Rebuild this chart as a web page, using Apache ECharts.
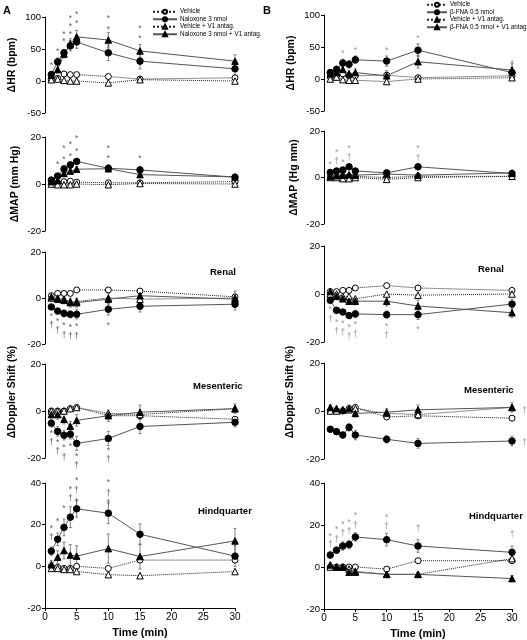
<!DOCTYPE html>
<html><head><meta charset="utf-8">
<script src="https://cdn.jsdelivr.net/npm/echarts@6/dist/echarts.min.js"></script>
<style>html,body{margin:0;padding:0;background:#fff}#c{width:527px;height:640px}</style>
</head><body><div id="c"></div>
<script>
// ---------- DATA ----------
const times = [1, 2, 3, 4, 5, 10, 15, 30];
const xTicks = [0, 5, 10, 15, 20, 25, 30];

const namesA = ['Vehicle', 'Naloxone 3 nmol', 'Vehicle + V1 antag.', 'Naloxone 3 nmol + V1 antag.'];
const namesB = ['Vehicle', 'β-FNA 0.5 nmol', 'Vehicle + V1 antag.', 'β-FNA 0.5 nmol + V1 antag.'];

// Column A: HR
const hrA_veh    = [2, 4, 11, 10, 10, 7, 3, 5];
const hrA_nal    = [10, 30, 44, 55, 61, 44, 31, 19];
const hrA_vehV1  = [2, 3, 1, 0, 0, -3, 2, 0];
const hrA_nalV1  = [9, 18, 42, 58, 69, 64, 47, 31];
const hrA_nalErr   = [4, 6, 5, 8, 10, 12, 12, 10];
const hrA_nalV1Err = [5, 6, 6, 8, 10, 12, 10, 10];
const hrA_ann = [[1,27,'*'],[2,49,'*'],[3,64,'*'],[3,76,'*'],[4,75,'*'],[4,88,'*'],[4,101,'*'],[5,93,'*'],[5,107,'*'],[10,83,'*'],[10,101,'*'],[15,69,'*'],[15,85,'*']];

// Column A: MAP
const mapA_veh   = [0.5, 0.5, 1, 1.2, 0.8, 0.5, 0.5, 1];
const mapA_nal   = [1.7, 3.4, 6.4, 8.1, 9.6, 6.7, 6, 2.9];
const mapA_vehV1 = [0, -0.3, -0.3, -0.3, 0, -0.3, 0.2, 0];
const mapA_nalV1 = [1, 1.5, 4.5, 5.5, 6.3, 6.5, 4, 3];
const mapA_nalErr   = [0.8, 1, 1.5, 1.5, 1.2, 1.5, 1.5, 1.2];
const mapA_nalV1Err = [0.8, 1, 1, 1, 1.2, 1.2, 1.2, 1];
const mapA_ann = [[2,9,'*'],[3,16,'*'],[3,11,'*'],[4,17.5,'*'],[4,12.5,'*'],[5,20,'*'],[5,14.5,'*'],[10,16,'*'],[10,11.5,'*'],[15,11.5,'*']];

// Column A: Renal
const renA_veh   = [1, 2, 2, 2, 3.5, 3.5, 3, 0.5];
const renA_nal   = [-3.9, -5.7, -6.7, -7.1, -7.1, -4.9, -3.6, -2.7];
const renA_vehV1 = [0, 0, -0.5, -1.5, -1.5, 0, -0.5, 0];
const renA_nalV1 = [0.5, -0.5, -1, -2, -2, -0.5, 1, -0.5];
const renA_nalErr   = [1, 1, 1.5, 1.5, 2, 2.5, 2.5, 2.5];
const renA_nalV1Err = [1.5, 1.5, 1.5, 2, 2, 2.5, 3, 3.5];
const renA_ann = [[1,-7.4,'*'],[1,-11.3,'†'],[2,-9.3,'*'],[2,-13.4,'†'],[3,-11,'*'],[3,-15.7,'†'],[4,-12,'*'],[4,-16,'†'],[5,-11.7,'*'],[5,-16,'†'],[10,-11,'*']];

// Column A: Mesenteric
const mesA_veh   = [0, 0, 0, 1, 1.5, -2, -2, -3.5];
const mesA_nal   = [-5.2, -8.7, -10.3, -9.9, -13.8, -11.7, -6.6, -4.8];
const mesA_vehV1 = [0, 0, 0, 1, 1.5, -1, -1.5, 1];
const mesA_nalV1 = [-1.5, -1.5, -3.5, -6.5, -4, -2, -0.5, 1];
const mesA_nalErr   = [1.5, 2, 2, 2, 3, 3, 3, 2];
const mesA_nalV1Err = [1.5, 2, 2, 2, 2.5, 2.5, 3, 2];
const mesA_ann = [[1,-8.7,'*'],[1,-12.6,'†'],[2,-12.7,'*'],[2,-16.6,'†'],[3,-14.9,'*'],[3,-18.9,'†'],[4,-14.5,'*'],[5,-18.6,'*'],[5,-22.5,'†'],[10,-16.1,'*'],[10,-20,'†']];

// Column A: Hindquarter
const hqA_veh   = [0, -0.5, -1, -1, 0, -1, 3, 3];
const hqA_nal   = [7.3, 13, 18.7, 23.6, 27.6, 25.5, 15.4, 4.9];
const hqA_vehV1 = [-1, -1, -1.5, -1.5, -2.5, -4, -4.5, -2.5];
const hqA_nalV1 = [0.8, 4.4, 7.6, 5.4, 4.9, 8.5, 4.7, 12.2];
const hqA_nalErr   = [2, 3, 4, 5, 4, 5, 5, 5];
const hqA_nalV1Err = [2, 3, 4, 5, 5, 7, 6, 6];
const hqA_ann = [[1,19,'*'],[1,14.8,'†'],[2,22.5,'*'],[3,28.5,'*'],[4,38,'*'],[4,33.5,'†'],[5,42,'*'],[5,37.5,'†'],[5,31.5,'†'],[10,41,'*'],[10,36,'†'],[10,31,'†']];

// Column B: HR
const hrB_veh   = [3, 5, 8, 5, 5, 6, 2, 5];
const hrB_fna   = [10, 15, 25, 23, 30, 28, 45, 10];
const hrB_vehV1 = [0, 3, -1, -2, -2, -4, 0, 2];
const hrB_fnaV1 = [8, 10, 15, 8, 10, 5, 27, 14];
const hrB_fnaErr   = [4, 5, 6, 6, 6, 8, 10, 8];
const hrB_fnaV1Err = [3, 5, 5, 5, 6, 8, 10, 10];
const hrB_ann = [[3,42,'*'],[5,47,'*'],[10,47,'*'],[15,66,'*'],[30,26,'†']];

// Column B: MAP
const mapB_veh   = [0.3, 0.3, 0.5, 0.5, 0.5, 0, 0.5, 0.5];
const mapB_fna   = [2.2, 2.8, 3.2, 4.6, 2.8, 2, 4.6, 1.7];
const mapB_vehV1 = [0, 0, -0.5, -0.5, 0, -0.8, 0, 0.5];
const mapB_fnaV1 = [0.5, 0.8, 1, 1.2, 1, 1.5, 1, 2];
const mapB_fnaErr   = [0.8, 0.8, 0.8, 1, 1, 0.8, 1.2, 1];
const mapB_fnaV1Err = [0.6, 0.6, 0.6, 0.8, 0.8, 0.8, 0.8, 1];
const mapB_ann = [[1,6.5,'*'],[2,11.5,'*'],[2,7.5,'†'],[3,7.2,'*'],[4,13.3,'*'],[4,9.4,'†'],[15,13.3,'*'],[15,9,'†']];

// Column B: Renal
const renB_veh   = [1, 1, 1.5, 1.5, 2.5, 3.5, 2.5, 1.5];
const renB_fna   = [-2.6, -6.8, -7.5, -9, -8.3, -8.6, -8.6, -4.2];
const renB_vehV1 = [0, 0, -1, -1, -2, 0, -0.5, 0];
const renB_fnaV1 = [1, -1, -2, -3, -3, -3, -5, -7.8];
const renB_fnaErr   = [1, 1, 1, 1.2, 1.5, 1.5, 2, 2];
const renB_fnaV1Err = [1, 1, 1, 1.2, 1.5, 2, 2.5, 2];
const renB_ann = [[1,-5.8,'*'],[1,-9.7,'†'],[2,-11.1,'*'],[2,-14.9,'†'],[3,-11.7,'*'],[3,-15.3,'†'],[4,-13,'*'],[4,-17,'†'],[5,-12,'*'],[5,-16.3,'†'],[10,-12.8,'*'],[10,-16.7,'†'],[15,-14.2,'*']];

// Column B: Mesenteric
const mesB_veh   = [0, 0, 0, 1, 1.5, -2.5, -2, -3];
const mesB_fna   = [-7.6, -8.6, -10, -6.8, -10, -11.8, -13.5, -12.5];
const mesB_vehV1 = [0, 0, 0.5, 0.5, 1, -1, -1.5, 1.5];
const mesB_fnaV1 = [1.5, 1, 0.5, 1, -1, -0.5, 0.5, 1.5];
const mesB_fnaErr   = [1.2, 1.2, 1.2, 1.5, 2, 1.5, 2, 2];
const mesB_fnaV1Err = [1, 1, 1, 1.5, 1.5, 1.5, 2, 2];
const mesB_ann = [[32,1,'†'],[32,-12.5,'†']];

// Column B: Hindquarter
const hqB_veh   = [0, 0, 0, 0, 0, -1, 3, 3];
const hqB_fna   = [5.7, 8, 10, 10.7, 14.3, 13, 10, 7];
const hqB_vehV1 = [0, 0, 0, -1, -2, -3.5, -3.5, 4];
const hqB_fnaV1 = [1, 0, 0, -2.5, -2.5, -3.5, -3.5, -5.5];
const hqB_fnaErr   = [1.5, 1.5, 2, 2, 2, 3, 3, 3];
const hqB_fnaV1Err = [1, 1, 1, 1, 1, 1, 1, 1.5];
const hqB_ann = [[1,15.6,'*'],[1,11.4,'†'],[2,18.7,'*'],[2,14,'†'],[3,21.1,'*'],[3,16.7,'†'],[4,22.1,'*'],[4,17.6,'†'],[5,25.4,'*'],[5,20.8,'†'],[10,24.4,'*'],[10,20,'†'],[15,19.2,'†'],[30,16.3,'†']];

// ---------- LAYOUT ----------
const colLeft = [45, 324], colWidth = [190, 188];
const rowsA = [[17, 96], [137, 94], [252, 92], [364, 94], [483, 125]];
const rowsB = [[15, 96], [131, 93], [246, 96], [363, 96], [483, 126]];
const yRanges = [[-50, 100, 50], [-20, 20, 20], [-20, 20, 20], [-20, 20, 20], [-20, 40, 20]];

const panels = [
  [hrA_veh, hrA_nal, hrA_vehV1, hrA_nalV1, hrA_nalErr, hrA_nalV1Err, hrA_ann],
  [mapA_veh, mapA_nal, mapA_vehV1, mapA_nalV1, mapA_nalErr, mapA_nalV1Err, mapA_ann],
  [renA_veh, renA_nal, renA_vehV1, renA_nalV1, renA_nalErr, renA_nalV1Err, renA_ann],
  [mesA_veh, mesA_nal, mesA_vehV1, mesA_nalV1, mesA_nalErr, mesA_nalV1Err, mesA_ann],
  [hqA_veh, hqA_nal, hqA_vehV1, hqA_nalV1, hqA_nalErr, hqA_nalV1Err, hqA_ann],
  [hrB_veh, hrB_fna, hrB_vehV1, hrB_fnaV1, hrB_fnaErr, hrB_fnaV1Err, hrB_ann],
  [mapB_veh, mapB_fna, mapB_vehV1, mapB_fnaV1, mapB_fnaErr, mapB_fnaV1Err, mapB_ann],
  [renB_veh, renB_fna, renB_vehV1, renB_fnaV1, renB_fnaErr, renB_fnaV1Err, renB_ann],
  [mesB_veh, mesB_fna, mesB_vehV1, mesB_fnaV1, mesB_fnaErr, mesB_fnaV1Err, mesB_ann],
  [hqB_veh, hqB_fna, hqB_vehV1, hqB_fnaV1, hqB_fnaErr, hqB_fnaV1Err, hqB_ann]
];

const FONT = 'Liberation Sans, Arial, sans-serif';
const grids = [], xAxes = [], yAxes = [], series = [];

const styles = [
  { symbol: 'circle', size: 6, fill: '#fff', line: 'dotted', lc: '#222' },
  { symbol: 'circle', size: 6.5, fill: '#000', line: 'solid', lc: '#555' },
  { symbol: 'triangle', size: 6.5, fill: '#fff', line: 'dotted', lc: '#222' },
  { symbol: 'triangle', size: 6.5, fill: '#000', line: 'solid', lc: '#555' }
];

function errorSeries(g, vals, errs) {
  return {
    type: 'custom', xAxisIndex: g, yAxisIndex: g, silent: true, z: 1,
    data: times.map((t, i) => [t, vals[i] - errs[i], vals[i] + errs[i]]),
    renderItem: function (params, api) {
      const lo = api.coord([api.value(0), api.value(1)]);
      const hi = api.coord([api.value(0), api.value(2)]);
      const w = 1.5;
      return { type: 'group', children: [
        { type: 'line', shape: { x1: lo[0], y1: lo[1], x2: hi[0], y2: hi[1] }, style: { stroke: '#666', lineWidth: 0.8 } },
        { type: 'line', shape: { x1: lo[0] - w, y1: lo[1], x2: lo[0] + w, y2: lo[1] }, style: { stroke: '#666', lineWidth: 0.8 } },
        { type: 'line', shape: { x1: hi[0] - w, y1: hi[1], x2: hi[0] + w, y2: hi[1] }, style: { stroke: '#666', lineWidth: 0.8 } }
      ] };
    }
  };
}

panels.forEach((p, g) => {
  const col = g < 5 ? 0 : 1, row = g % 5;
  const r = col === 0 ? rowsA[row] : rowsB[row];
  grids.push({ left: colLeft[col], top: r[0], width: colWidth[col], height: r[1] });
  const bottom = row === 4;
  xAxes.push({
    type: 'value', gridIndex: g, min: 0, max: 30, interval: 5, show: bottom,
    axisLine: { onZero: false, lineStyle: { color: '#000', width: 1 } },
    axisTick: { show: true, length: 3, lineStyle: { color: '#000' } },
    axisLabel: { fontSize: 10, color: '#000', fontFamily: FONT, margin: 4 },
    splitLine: { show: false },
    name: bottom ? 'Time (min)' : '', nameLocation: 'middle', nameGap: 19,
    nameTextStyle: { fontSize: 11, fontWeight: 'bold', color: '#000', fontFamily: FONT }
  });
  const yr = yRanges[row];
  let yname = '';
  if (row === 0) yname = 'ΔHR (bpm)';
  if (row === 1) yname = col === 0 ? 'ΔMAP (mm Hg)' : 'ΔMAP (Hg mm)';
  yAxes.push({
    type: 'value', gridIndex: g, min: yr[0], max: yr[1], interval: yr[2],
    axisLine: { show: true, onZero: false, lineStyle: { color: '#000', width: 1 } },
    axisTick: { show: true, length: 3, lineStyle: { color: '#000' } },
    axisLabel: { fontSize: 9.5, color: '#000', fontFamily: FONT, margin: 4 },
    splitLine: { show: false },
    name: yname, nameLocation: 'middle', nameGap: row === 0 ? 27 : 24, nameRotate: 90,
    nameTextStyle: { fontSize: 10.5, fontWeight: 'bold', color: '#000', fontFamily: FONT }
  });
  const names = col === 0 ? namesA : namesB;
  [p[1], p[3]].forEach((v, k) => series.push(errorSeries(g, v, k === 0 ? p[4] : p[5])));
  [0, 1, 2, 3].forEach(k => {
    const s = styles[k];
    series.push({
      type: 'line', name: names[k], xAxisIndex: g, yAxisIndex: g, z: 3 + (k % 2),
      data: times.map((t, i) => [t, p[k][i]]),
      symbol: s.symbol, symbolSize: s.size, showAllSymbol: true,
      lineStyle: { color: s.lc, width: 1, type: s.line },
      itemStyle: { color: s.fill, borderColor: '#000', borderWidth: 1 },
      emphasis: { disabled: true }, animation: false
    });
  });
  series.push({
    type: 'scatter', xAxisIndex: g, yAxisIndex: g, symbolSize: 0, silent: true, clip: false,
    data: p[6],
    label: { show: true, position: 'inside', offset: [0, 2], formatter: q => q.value[2],
      fontSize: 8.5, color: col === 0 ? '#333' : '#777', fontFamily: FONT },
    animation: false
  });
});

function legendAt(left, top, names, iw) {
  return {
    orient: 'vertical', left: left, top: top, itemWidth: iw, itemHeight: 5, itemGap: 0,
    data: names, selectedMode: false, padding: 0,
    textStyle: { fontSize: 6.3, color: '#000', fontFamily: FONT, lineHeight: 7.5, height: 7.5, padding: [0, 0, 0, -2] }
  };
}

const regionText = (x, y, t) => ({ type: 'text', left: x, top: y,
  style: { text: t, font: 'bold 9.5px ' + FONT, fill: '#000' } });

const chart = echarts.init(document.getElementById('c'));
chart.setOption({
  animation: false,
  backgroundColor: '#fff',
  grid: grids, xAxis: xAxes, yAxis: yAxes, series: series,
  legend: [legendAt(152, 8, namesA, 24), legendAt(426, 1, namesB, 20)],
  graphic: [
    { type: 'text', left: 3, top: 5, style: { text: 'A', font: 'bold 11px ' + FONT, fill: '#000' } },
    { type: 'text', left: 263, top: 5, style: { text: 'B', font: 'bold 11px ' + FONT, fill: '#000' } },
    regionText(210, 267, 'Renal'), regionText(478, 264, 'Renal'),
    regionText(193, 381, 'Mesenteric'), regionText(464, 385, 'Mesenteric'),
    regionText(198, 506, 'Hindquarter'), regionText(469, 511, 'Hindquarter'),
    { type: 'text', x: 12, y: 392, rotation: Math.PI / 2,
      style: { text: 'ΔDoppler Shift (%)', font: 'bold 10.5px ' + FONT, fill: '#000', align: 'center', verticalAlign: 'middle' } },
    { type: 'text', x: 290, y: 392, rotation: Math.PI / 2,
      style: { text: 'ΔDoppler Shift (%)', font: 'bold 10.5px ' + FONT, fill: '#000', align: 'center', verticalAlign: 'middle' } }
  ]
});
</script></body></html>
